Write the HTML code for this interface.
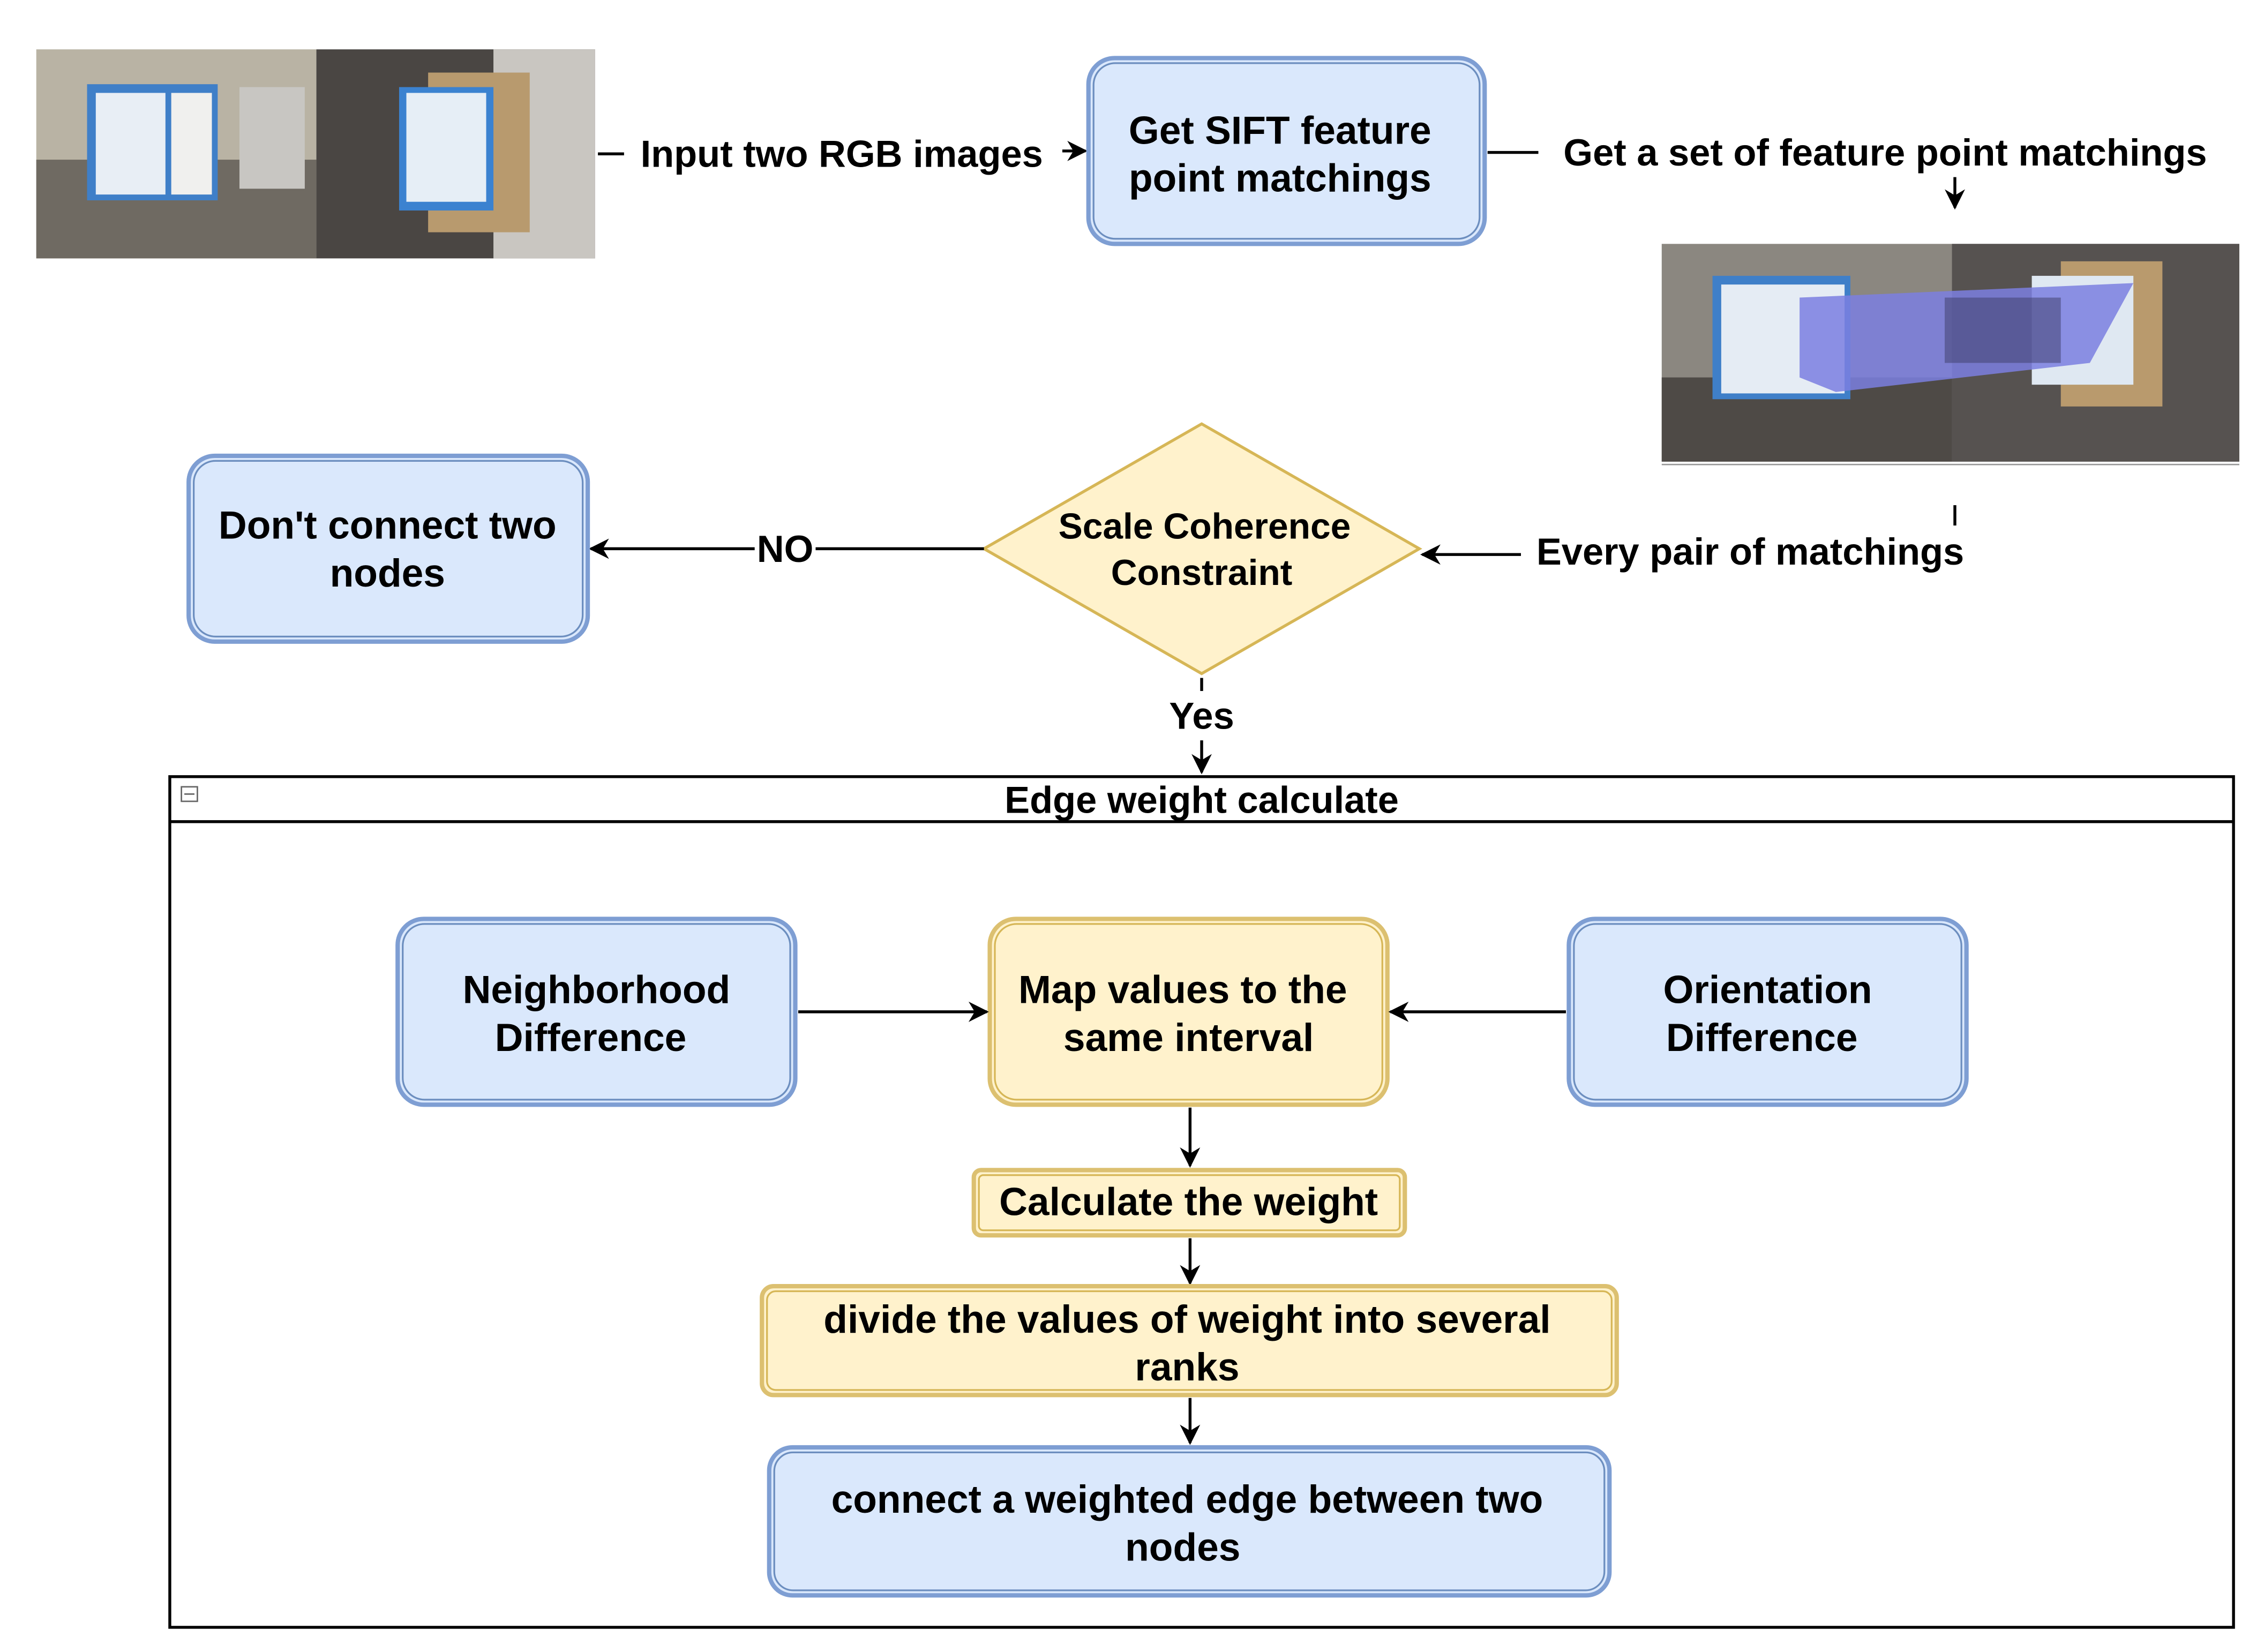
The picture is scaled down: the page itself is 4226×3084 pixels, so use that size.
<!DOCTYPE html>
<html><head><meta charset="utf-8"><style>html,body{margin:0;padding:0;background:#fff}svg{display:block}</style></head>
<body>
<svg width="4226" height="3084" viewBox="0 0 1560 1138" preserveAspectRatio="none" xmlns="http://www.w3.org/2000/svg" font-family="Liberation Sans, Arial, sans-serif" font-weight="bold">
<defs>
<marker id="a" viewBox="0 0 10 10" refX="9" refY="5" markerWidth="7" markerHeight="7" orient="auto-start-reverse"><path d="M0,0 L10,5 L0,10 L3,5 z" fill="#000"/></marker>
</defs>
<rect width="1560" height="1138" fill="#fff"/>
<!-- photos top-left -->
<rect x="25" y="34" width="193" height="144" fill="#b9b3a4"/>
<rect x="25" y="110" width="193" height="68" fill="#6f6a62"/>
<rect x="60" y="58" width="90" height="80" fill="#3f7fc8"/>
<rect x="66" y="64" width="48" height="70" fill="#e8eef5"/>
<rect x="118" y="64" width="28" height="70" fill="#f0f0ee"/>
<rect x="165" y="60" width="45" height="70" fill="#c8c6c2"/>
<rect x="218" y="34" width="192" height="144" fill="#4a4643"/>
<rect x="340" y="34" width="70" height="144" fill="#c9c6c1"/>
<rect x="295" y="50" width="70" height="110" fill="#b89a6e"/>
<rect x="275" y="60" width="65" height="85" fill="#3b82d0"/>
<rect x="280" y="64" width="55" height="75" fill="#e6eef6"/>
<!-- matching image -->
<rect x="1145" y="168" width="398" height="150" fill="#8b8780"/>
<rect x="1145" y="260" width="200" height="58" fill="#4e4a46"/>
<rect x="1345" y="168" width="198" height="150" fill="#565250"/>
<rect x="1420" y="180" width="70" height="100" fill="#b99a6d"/>
<rect x="1180" y="190" width="95" height="85" fill="#3f7fc8"/>
<rect x="1186" y="196" width="85" height="75" fill="#e5ecf4"/>
<rect x="1400" y="190" width="70" height="75" fill="#dfe8f2"/>
<polygon points="1240,205 1470,195 1440,250 1265,270 1240,260" fill="#7b7fe0" opacity="0.85"/>
<rect x="1340" y="205" width="80" height="45" fill="#3c3c66" opacity="0.5"/>
<line x1="1145" y1="320" x2="1543" y2="320" stroke="#999" stroke-width="1"/>
<!-- top row -->
<line x1="412" y1="106" x2="430" y2="106" stroke="#000" stroke-width="2"/>
<text x="580" y="115" font-size="26" text-anchor="middle">Input two RGB images</text>
<line x1="732" y1="104" x2="748" y2="104" stroke="#000" stroke-width="2" marker-end="url(#a)"/>
<rect x="750" y="40" width="273" height="128" rx="18" fill="#dae8fc" stroke="#7e9ed3" stroke-width="3"/>
<rect x="753.5" y="43.5" width="266" height="121" rx="15" fill="none" stroke="#6c8ebf" stroke-width="1.2"/>
<text x="882" y="99" font-size="27" text-anchor="middle">Get SIFT feature</text>
<text x="882" y="132" font-size="27" text-anchor="middle">point matchings</text>
<line x1="1025" y1="105" x2="1060" y2="105" stroke="#000" stroke-width="2"/>
<text x="1299" y="114" font-size="26" text-anchor="middle">Get a set of feature point matchings</text>
<line x1="1347" y1="122" x2="1347" y2="143" stroke="#000" stroke-width="2" marker-end="url(#a)"/>
<line x1="1347" y1="348" x2="1347" y2="362" stroke="#000" stroke-width="2"/>
<text x="1206" y="389" font-size="26" text-anchor="middle">Every pair of matchings</text>
<line x1="1048" y1="382" x2="980" y2="382" stroke="#000" stroke-width="2" marker-end="url(#a)"/>
<!-- diamond -->
<polygon points="828,292 978,378 828,464 678,378" fill="#fff2cc" stroke="#d6b656" stroke-width="2"/>
<text x="830" y="371" font-size="25" text-anchor="middle">Scale Coherence</text>
<text x="828" y="403" font-size="25" text-anchor="middle">Constraint</text>
<line x1="678" y1="378" x2="562" y2="378" stroke="#000" stroke-width="2"/>
<text x="541" y="387" font-size="26" text-anchor="middle">NO</text>
<line x1="520" y1="378" x2="407" y2="378" stroke="#000" stroke-width="2" marker-end="url(#a)"/>
<rect x="130" y="314" width="275" height="128" rx="18" fill="#dae8fc" stroke="#7e9ed3" stroke-width="3"/>
<rect x="133.5" y="317.5" width="268" height="121" rx="15" fill="none" stroke="#6c8ebf" stroke-width="1.2"/>
<text x="267" y="371" font-size="27" text-anchor="middle">Don't connect two</text>
<text x="267" y="404" font-size="27" text-anchor="middle">nodes</text>
<line x1="828" y1="467" x2="828" y2="476" stroke="#000" stroke-width="2"/>
<text x="828" y="502" font-size="26" text-anchor="middle">Yes</text>
<line x1="828" y1="510" x2="828" y2="532" stroke="#000" stroke-width="2" marker-end="url(#a)"/>
<!-- container -->
<rect x="117" y="535" width="1422" height="586" fill="none" stroke="#000" stroke-width="2"/>
<line x1="117" y1="566" x2="1539" y2="566" stroke="#000" stroke-width="2"/>
<rect x="125" y="542" width="11" height="10" fill="#fff" stroke="#666" stroke-width="1"/>
<line x1="127" y1="547" x2="134" y2="547" stroke="#666" stroke-width="1"/>
<text x="828" y="560" font-size="26" text-anchor="middle">Edge weight calculate</text>
<!-- row -->
<rect x="274" y="633" width="274" height="128" rx="18" fill="#dae8fc" stroke="#7e9ed3" stroke-width="3"/>
<rect x="277.5" y="636.5" width="267" height="121" rx="15" fill="none" stroke="#6c8ebf" stroke-width="1.2"/>
<text x="411" y="691" font-size="27" text-anchor="middle">Neighborhood</text>
<text x="407" y="724" font-size="27" text-anchor="middle">Difference</text>
<rect x="682" y="633" width="274" height="128" rx="18" fill="#fff2cc" stroke="#dcc070" stroke-width="3"/>
<rect x="685.5" y="636.5" width="267" height="121" rx="15" fill="none" stroke="#d6b656" stroke-width="1.2"/>
<text x="815" y="691" font-size="27" text-anchor="middle">Map values to the</text>
<text x="819" y="724" font-size="27" text-anchor="middle">same interval</text>
<rect x="1081" y="633" width="274" height="128" rx="18" fill="#dae8fc" stroke="#7e9ed3" stroke-width="3"/>
<rect x="1084.5" y="636.5" width="267" height="121" rx="15" fill="none" stroke="#6c8ebf" stroke-width="1.2"/>
<text x="1218" y="691" font-size="27" text-anchor="middle">Orientation</text>
<text x="1214" y="724" font-size="27" text-anchor="middle">Difference</text>
<line x1="550" y1="697" x2="680" y2="697" stroke="#000" stroke-width="2" marker-end="url(#a)"/>
<line x1="1079" y1="697" x2="958" y2="697" stroke="#000" stroke-width="2" marker-end="url(#a)"/>
<line x1="820" y1="763" x2="820" y2="803" stroke="#000" stroke-width="2" marker-end="url(#a)"/>
<rect x="671" y="806" width="297" height="45" rx="5" fill="#fff2cc" stroke="#dcc070" stroke-width="3"/>
<rect x="674.5" y="809.5" width="290" height="38" rx="3" fill="none" stroke="#d6b656" stroke-width="1.2"/>
<text x="819" y="837" font-size="27" text-anchor="middle">Calculate the weight</text>
<line x1="820" y1="853" x2="820" y2="884" stroke="#000" stroke-width="2" marker-end="url(#a)"/>
<rect x="525" y="886" width="589" height="75" rx="8" fill="#fff2cc" stroke="#dcc070" stroke-width="3"/>
<rect x="528.5" y="889.5" width="582" height="68" rx="6" fill="none" stroke="#d6b656" stroke-width="1.2"/>
<text x="818" y="918" font-size="27" text-anchor="middle">divide the values of weight into several</text>
<text x="818" y="951" font-size="27" text-anchor="middle">ranks</text>
<line x1="820" y1="963" x2="820" y2="994" stroke="#000" stroke-width="2" marker-end="url(#a)"/>
<rect x="530" y="997" width="579" height="102" rx="16" fill="#dae8fc" stroke="#7e9ed3" stroke-width="3"/>
<rect x="533.5" y="1000.5" width="572" height="95" rx="13" fill="none" stroke="#6c8ebf" stroke-width="1.2"/>
<text x="818" y="1042" font-size="27" text-anchor="middle">connect a weighted edge between two</text>
<text x="815" y="1075" font-size="27" text-anchor="middle">nodes</text>
</svg>
</body></html>
